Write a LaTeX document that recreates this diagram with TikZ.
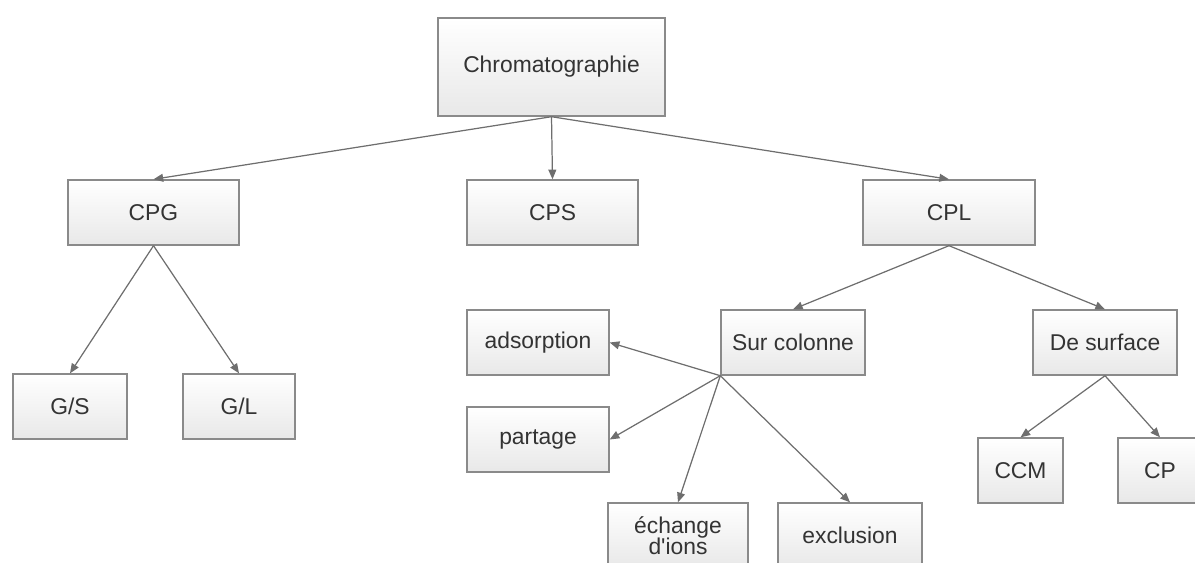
\documentclass[tikz,border=0pt]{standalone}
\usepackage{fontspec}
\setmainfont{Liberation Sans}
\usetikzlibrary{arrows.meta}
\definecolor{boxline}{HTML}{8A8A8A}
\definecolor{arrowgray}{HTML}{6E6E6E}
\definecolor{labelgray}{HTML}{333333}
\begin{document}
\begin{tikzpicture}[
		node distance=1cm,
		class box/.style={rectangle, draw=boxline, line width=0.8pt, top color=white, bottom color=gray!18, text=labelgray, font=\fontsize{13}{15}\selectfont, minimum height=1.3cm, inner sep=2pt},
		arrow/.style={draw=arrowgray, line width=0.7pt, -{Triangle[length=5.5pt,width=4.5pt]}}
	]
		\useasboundingbox (0,0) rectangle (23.9,-11.26);

		\node[class box, minimum width=4.54cm, minimum height=1.96cm] (chrom) at (11.03,-1.34) {Chromatographie};

		\node[class box, minimum width=3.42cm, below of=chrom, xshift=0.02cm, yshift=-1.91cm] (cps) {CPS};
		\node[class box, minimum width=3.42cm, left of=cps, xshift=-6.98cm] (cpg) {CPG};
		\node[class box, minimum width=3.44cm, right of=cps, xshift=6.93cm] (cpl) {CPL};

		\node[class box, minimum width=2.28cm, below of=cpg, xshift=-1.67cm, yshift=-2.88cm] (gs) {G/S};
		\node[class box, minimum width=2.24cm, right of=gs, xshift=2.38cm] (gl) {G/L};

		\node[class box, minimum width=2.88cm, below of=cpl, xshift=-3.12cm, yshift=-1.6cm] (sur) {Sur colonne};
		\node[class box, minimum width=2.88cm, right of=sur, xshift=5.24cm] (surf) {De surface};

		\node[class box, minimum width=2.84cm, left of=sur, xshift=-4.1cm] (ads) {adsorption};
		\node[class box, minimum width=2.84cm, below of=ads, yshift=-0.94cm] (part) {partage};
		\node[class box, minimum width=2.8cm, align=center, below of=sur, xshift=-2.3cm, yshift=-2.86cm] (ech) {échange\\[-3pt]d\textquotesingle ions};
		\node[class box, minimum width=2.88cm, right of=ech, xshift=2.44cm] (excl) {exclusion};

		\node[class box, minimum width=1.7cm, below of=surf, xshift=-1.69cm, yshift=-1.56cm] (ccm) {CCM};
		\node[class box, minimum width=1.68cm, right of=ccm, xshift=1.79cm] (cp) {CP};

		\foreach \n in {cpg,cps,cpl} {
			\draw[arrow] (chrom.south) -- (\n.north);
		}

		\foreach \n in {gs,gl} {
			\draw[arrow] (cpg.south) -- (\n.north);
		}

		\foreach \n in {sur,surf} {
			\draw[arrow] (cpl.south) -- (\n.north);
		}

		\foreach \n in {ads,part} {
			\draw[arrow] (sur.south west) -- (\n.east);
		}
		\foreach \n in {ech,excl} {
			\draw[arrow] (sur.south west) -- (\n.north);
		}

		\foreach \n in {ccm,cp} {
			\draw[arrow] (surf.south) -- (\n.north);
		}
	\end{tikzpicture}
\end{document}
